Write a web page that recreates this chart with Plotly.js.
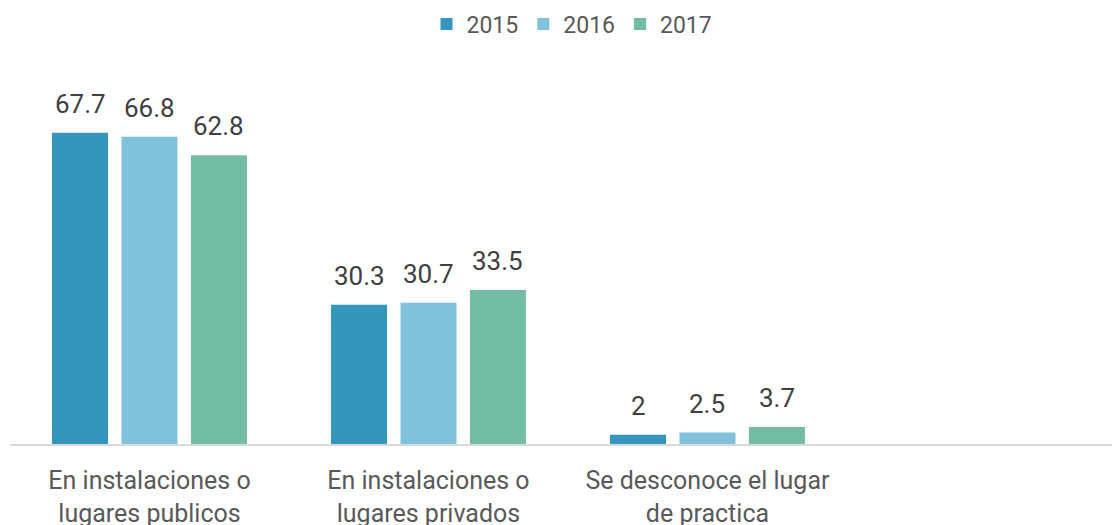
<!DOCTYPE html>
<html>
<head>
<meta charset="utf-8">
<script src="https://cdn.plot.ly/plotly-3.0.1.min.js"></script>
<style>html,body{margin:0;padding:0;background:#fff;}#chart{width:1112px;height:525px;}</style>
</head>
<body>
<div id="chart"></div>
<script>
const categories = ["En instalaciones o<br>lugares publicos", "En instalaciones o<br>lugares privados", "Se desconoce el lugar<br>de practica"];
const years = ["2015", "2016", "2017"];
const values2015 = [67.7, 30.3, 2];
const values2016 = [66.8, 30.7, 2.5];
const values2017 = [62.8, 33.5, 3.7];
const colors = ["#3595BC", "#80C1DC", "#73BDA4"];

const BARGAP = 0.253;
const series = [values2015, values2016, values2017];
const traces = series.map((vals, i) => ({
  type: "bar",
  name: years[i],
  x: categories,
  y: vals,
  marker: {color: colors[i]},
  hoverinfo: "skip"
}));

const slot = (1 - BARGAP) / series.length;
const annotations = [];
series.forEach((vals, i) => {
  vals.forEach((v, j) => {
    annotations.push({
      x: j + (i - (series.length - 1) / 2) * slot,
      y: v,
      xref: "x", yref: "y",
      text: String(v),
      showarrow: false,
      yanchor: "bottom",
      yshift: 12,
      font: {family: "Roboto", size: 26, color: "#404040"}
    });
  });
});

const layout = {
  width: 1112, height: 525,
  margin: {l: 10, r: 0, t: 77, b: 81},
  paper_bgcolor: "#fff", plot_bgcolor: "#fff",
  font: {family: "Roboto", color: "#595959"},
  barmode: "group",
  bargap: BARGAP,
  bargroupgap: 0.194,
  showlegend: true,
  legend: {orientation: "h", x: 0.51, xanchor: "center", y: 1.144, yanchor: "middle",
           font: {family: "Roboto", size: 23, color: "#595959"}, traceorder: "normal"},
  annotations: annotations,
  xaxis: {
    type: "category",
    automargin: false,
    range: [-0.5, 3.45],
    showline: true, linecolor: "#D9D9D9", linewidth: 2,
    ticks: "", showgrid: false, zeroline: false,
    tickfont: {family: "Roboto", size: 25, color: "#595959"},
    ticklabelstandoff: 13
  },
  yaxis: {
    automargin: false,
    range: [0, 79.8],
    visible: false, showgrid: false, zeroline: false
  }
};

Plotly.newPlot("chart", traces, layout, {staticPlot: true});
</script>
</body>
</html>
